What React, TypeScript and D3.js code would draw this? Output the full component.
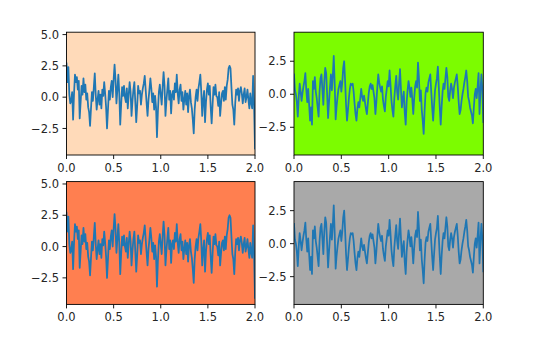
import React from "react";
import * as d3 from "d3";

// Signal in the left column (top-left and bottom-left panels)
const seriesLeft: number[] = [
  2.7, 1.2, 2.4, 0.2, -0.5, -0.3, 0.4, -1.8, 0.3, 1.8,
  1.2, 1.6, 0.6, 1.3, -1.7, -0.4, 0.9, 0.2, 1.5, 0.4,
  1.0, -0.2, 0.3, -0.8, -1.2, -2.3, -0.9, 0.4, -0.3, 0.8,
  1.9, 0.2, -1.0, -0.2, 0.5, -0.6, 0.2, -0.9, 0.6, 0.1,
  1.2, 0.3, -0.8, -2.5, -1.0, 0.5, -0.2, 0.8, 1.3, 0.0,
  1.4, 2.6, 1.4, -0.5, 0.6, 1.8, 0.3, -2.2, -0.6, 0.8,
  0.1, 0.9, 0.0, -0.4, 0.7, -0.9, 0.2, 1.2, 0.4, -1.5,
  -0.3, 0.6, 1.2, -0.4, -2.0, -0.7, 0.9, 0.3, 0.5, -0.6,
  0.2, 0.7, 1.1, 1.7, 0.6, -0.5, -1.5, -0.2, 0.6, 1.5,
  0.7, -0.4, 0.3, -1.0, 0.1, -0.8, -3.2, -1.1, 0.4, 1.0,
  0.2, -0.6, 0.8, 2.0, 0.9, -1.5, -0.3, 0.6, 1.5, -0.2,
  0.5, -1.3, 0.2, 0.5, -0.2, 1.1, 0.4, 1.8, 0.3, -0.5,
  0.6, 1.0, -0.3, 0.4, -1.0, -0.2, 0.5, -0.6, 0.3, -1.2,
  0.1, 0.6, -0.4, -0.9, -1.8, -2.9, -1.0, 0.0, 0.6, -0.3,
  0.7, 1.2, 1.8, 0.4, -1.5, -0.2, 0.5, -2.0, -0.4, 0.6,
  1.1, 0.2, 0.9, -0.8, -2.1, -0.6, 0.8, 0.2, 1.0, 0.1,
  0.0, -0.7, 0.4, -1.5, -0.5, 0.3, 0.5, -0.3, 0.8, -0.2,
  0.9, 1.4, 2.3, 2.5, 2.3, 0.8, -0.6, -1.0, -2.2, -0.5,
  0.6, 0.2, 0.7, -0.3, 0.5, 0.8, 0.3, -0.5, 0.2, 0.7,
  -0.4, 0.0, 0.6, -0.2, -0.9, 0.3, -0.5, -0.9, 1.7, -0.6,
  -4.1,
];

// Signal in the right column (top-right and bottom-right panels)
const seriesRight: number[] = [
  1.5, 0.3, 0.0, -0.6, -1.7, -0.2, 0.8, 0.2, -0.5, 0.1,
  0.6, 1.0, 1.6, 0.3, -0.6, 0.4, -0.8, -2.0, -1.0, -2.3,
  1.0, 0.4, 1.3, 0.2, -0.3, -1.0, -1.7, 0.2, 1.2, 1.5,
  0.4, -0.8, 0.9, 2.0, 1.6, 0.0, -1.8, -0.6, 0.5, 1.5,
  0.3, 1.4, 2.9, 0.8, -1.9, -0.9, -0.2, 0.4, 0.7, 1.0,
  0.2, 0.9, 2.0, 2.5, 1.0, -0.8, -2.0, -1.2, -0.3, 0.4,
  0.8, 0.7, 0.8, 0.2, -0.7, -1.5, -2.0, -1.1, -0.6, -1.0,
  -0.3, 0.4, -0.2, -0.5, -0.1, -0.6, -1.1, -1.5, -0.7, 0.1,
  0.6, 0.8, 0.4, 0.7, 0.2, -0.3, -1.5, -0.6, 0.5, 1.5,
  0.9, 0.5, 0.2, 0.6, -0.4, -0.9, -1.3, -0.2, 0.4, 1.0,
  0.6, 1.8, 0.7, -0.5, -1.2, -1.7, -0.3, 0.6, 1.4, 0.2,
  -0.4, 0.8, 1.9, 0.4, -1.0, -0.3, 0.2, -1.4, -2.3, -0.6,
  0.3, 1.0, 0.5, -0.2, 0.5, -0.4, -1.5, -0.3, 0.6, 1.0,
  0.5, 2.4, 1.2, -0.5, 0.3, -1.2, -2.0, -3.0, -1.2, 0.1,
  0.5, 0.2, 0.9, 1.2, 1.5, 0.2, -1.0, -2.0, -0.8, 0.3,
  0.8, 1.2, 2.1, 0.5, -1.0, -2.3, -0.9, 0.2, 0.8, 0.4,
  1.2, 2.0, 1.3, -0.2, -0.5, 0.3, 0.8, 0.4, -0.3, 0.5,
  0.9, 1.2, 1.5, 0.6, -0.6, -1.5, -1.2, -0.5, 0.0, 0.4,
  0.9, 1.3, 1.8, 1.0, -0.2, -0.5, -1.0, -1.3, -1.6, -2.2,
  -1.0, 0.0, 0.4, -0.3, 0.6, 1.6, -1.5, 0.2, 1.5, 0.3,
  -2.1,
];

const xTicks: number[] = [0, 0.5, 1.0, 1.5, 2.0];
const yTicksLeft: number[] = [-2.5, 0, 2.5, 5.0];
const yTicksRight: number[] = [-2.5, 0, 2.5];
const xDomain: [number, number] = [0, 2];
const yDomainLeft: [number, number] = [-4.62, 5.19];
const yDomainRight: [number, number] = [-4.6, 4.7];
const backgrounds: string[] = ["#FFDAB9", "#7CFC00", "#FF7F50", "#A9A9A9"];

const colX: [number, number][] = [
  [66.5, 255],
  [294, 483.3],
];
const rowY: [number, number][] = [
  [32.2, 155],
  [181.6, 304.4],
];

const FONT = "'DejaVu Sans', sans-serif";
const FS = 11.5;

export default function App() {
  const panels = [0, 1, 2, 3].map((k) => {
    const col = k % 2;
    const row = Math.floor(k / 2);
    return {
      k,
      col,
      row,
      bg: backgrounds[k],
      data: col === 0 ? seriesLeft : seriesRight,
      yDomain: col === 0 ? yDomainLeft : yDomainRight,
      yTicks: col === 0 ? yTicksLeft : yTicksRight,
    };
  });

  return (
    <svg
      width={543}
      height={355}
      style={{ position: "absolute", left: 0, top: 0, background: "#fff" }}
    >
      <defs>
        {panels.map((p) => (
          <clipPath id={`clip${p.k}`} key={p.k}>
            <rect
              x={colX[p.col][0]}
              y={rowY[p.row][0]}
              width={colX[p.col][1] - colX[p.col][0]}
              height={rowY[p.row][1] - rowY[p.row][0]}
            />
          </clipPath>
        ))}
      </defs>
      {panels.map((p) => {
        const x = d3.scaleLinear().domain(xDomain).range(colX[p.col]);
        const y = d3
          .scaleLinear()
          .domain(p.yDomain)
          .range([rowY[p.row][1], rowY[p.row][0]]);
        const line = d3
          .line<number>()
          .x((_, i) => x(i * 0.01))
          .y((v) => y(v));
        const [x0, x1] = colX[p.col];
        const [y0, y1] = rowY[p.row];
        return (
          <g key={p.k}>
            <rect x={x0} y={y0} width={x1 - x0} height={y1 - y0} fill={p.bg} />
            <path
              d={line(p.data) || ""}
              fill="none"
              stroke="#1f77b4"
              strokeWidth={1.75}
              strokeLinejoin="round"
              strokeLinecap="square"
              clipPath={`url(#clip${p.k})`}
            />
            <rect
              x={x0}
              y={y0}
              width={x1 - x0}
              height={y1 - y0}
              fill="none"
              stroke="#000"
              strokeWidth={0.9}
            />
            {xTicks.map((t) => (
              <g key={`x${t}`}>
                <line
                  x1={x(t)}
                  x2={x(t)}
                  y1={y1}
                  y2={y1 + 4}
                  stroke="#000"
                  strokeWidth={0.9}
                />
                <text
                  x={x(t)}
                  y={y1 + 8}
                  dy="0.76em"
                  textAnchor="middle"
                  fontFamily={FONT}
                  fontSize={FS}
                  fill="#262626"
                >
                  {t.toFixed(1)}
                </text>
              </g>
            ))}
            {p.yTicks.map((t) => (
              <g key={`y${t}`}>
                <line
                  x1={x0 - 4}
                  x2={x0}
                  y1={y(t)}
                  y2={y(t)}
                  stroke="#000"
                  strokeWidth={0.9}
                />
                <text
                  x={x0 - 7.5}
                  y={y(t)}
                  dy="0.36em"
                  textAnchor="end"
                  fontFamily={FONT}
                  fontSize={FS}
                  fill="#262626"
                >
                  {t < 0 ? "\u2212" + Math.abs(t).toFixed(1) : t.toFixed(1)}
                </text>
              </g>
            ))}
          </g>
        );
      })}
    </svg>
  );
}
